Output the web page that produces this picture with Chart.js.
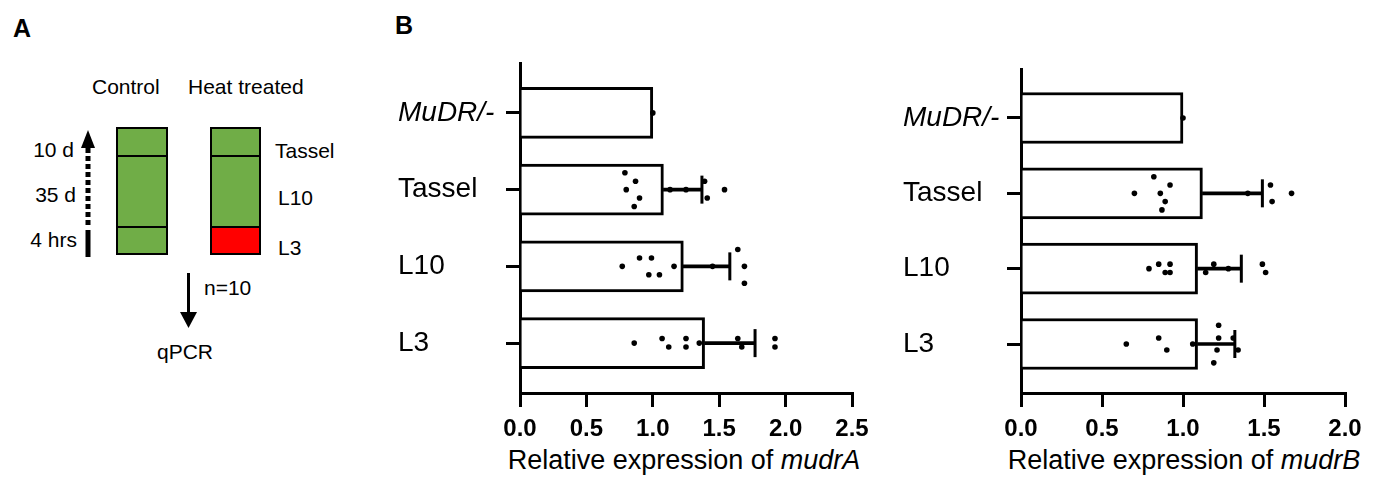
<!DOCTYPE html>
<html>
<head>
<meta charset="utf-8">
<script src="https://cdn.jsdelivr.net/npm/chart.js@4/dist/chart.umd.min.js"></script>
<style>
  body { margin: 0; background: #fff; width: 1377px; height: 478px; overflow: hidden; position: relative; font-family: "Liberation Sans", Arial, sans-serif; }
  svg.fig { position: absolute; left: 0; top: 0; }
  .box { position: absolute; }
</style>
</head>
<body>
<svg class="fig" width="1377" height="478" font-family="Liberation Sans, Arial, sans-serif">
  <text x="13" y="37" font-size="25" font-weight="bold">A</text>
  <text x="395" y="34" font-size="25" font-weight="bold">B</text>

  <text x="92" y="94" font-size="21">Control</text>
  <text x="188" y="94" font-size="21">Heat treated</text>

  <rect x="117" y="128" width="50" height="126" fill="#70AD47" stroke="#000" stroke-width="2"/>
  <line x1="117" y1="156" x2="167" y2="156" stroke="#000" stroke-width="2"/>
  <line x1="117" y1="227" x2="167" y2="227" stroke="#000" stroke-width="2"/>

  <rect x="211" y="128" width="49" height="126" fill="#70AD47" stroke="#000" stroke-width="2"/>
  <rect x="211" y="227" width="49" height="27" fill="#FF0000" stroke="#000" stroke-width="2"/>
  <line x1="211" y1="156" x2="260" y2="156" stroke="#000" stroke-width="2"/>

  <text x="74" y="157" font-size="21" text-anchor="end">10 d</text>
  <text x="76" y="202" font-size="21" text-anchor="end">35 d</text>
  <text x="77" y="247" font-size="21" text-anchor="end">4 hrs</text>

  <polygon points="81,148 95,148 88,130" fill="#000"/>
  <line x1="88" y1="148" x2="88" y2="227" stroke="#000" stroke-width="5" stroke-dasharray="5 3"/>
  <line x1="88" y1="230" x2="88" y2="257" stroke="#000" stroke-width="5"/>

  <text x="275" y="158" font-size="21">Tassel</text>
  <text x="278" y="205" font-size="21">L10</text>
  <text x="278" y="255" font-size="21">L3</text>

  <line x1="188.5" y1="273" x2="188.5" y2="313" stroke="#000" stroke-width="3"/>
  <polygon points="180,312 197,312 188.5,328" fill="#000"/>
  <text x="204" y="295" font-size="21">n=10</text>
  <text x="185" y="359" font-size="21" text-anchor="middle">qPCR</text>

  <text x="684" y="469" font-size="27" text-anchor="middle">Relative expression of <tspan font-style="italic">mudrA</tspan></text>
  <text x="1184" y="469" font-size="27" text-anchor="middle">Relative expression of <tspan font-style="italic">mudrB</tspan></text>
</svg>

<div class="box" style="left:398px; top:40px; width:484px; height:403px;"><canvas id="mudrA"></canvas></div>
<div class="box" style="left:903px; top:46px; width:472px; height:397px;"><canvas id="mudrB"></canvas></div>

<script>
categories = ['MuDR/-', 'Tassel', 'L10', 'L3'];

// mudrA panel
meanA = [1.0, 1.08, 1.23, 1.39];
errTopA = [null, 1.37, 1.58, 1.77];
pointsA = [
    [1.0],
    [0.79, 0.87, 0.80, 0.90, 0.86, 1.13, 1.25, 1.39, 1.41, 1.54],
    [0.77, 0.90, 0.99, 0.97, 1.05, 1.16, 1.45, 1.64, 1.69, 1.69],
    [0.86, 1.07, 1.12, 1.25, 1.25, 1.35, 1.64, 1.67, 1.92, 1.92]
];
offsetsA = [
    [0],
    [-0.22, -0.11, 0, 0.11, 0.22, 0, 0, -0.11, 0.11, 0],
    [0, -0.11, -0.11, 0.11, 0.11, 0, 0, -0.22, 0, 0.22],
    [0, -0.06, 0.05, -0.06, 0.05, 0, -0.06, 0.05, -0.06, 0.05]
];

// mudrB panel
meanB = [1.0, 1.12, 1.09, 1.09];
errTopB = [null, 1.49, 1.36, 1.32];
pointsB = [
    [1.0],
    [0.82, 0.92, 0.70, 0.86, 0.89, 0.87, 1.40, 1.54, 1.55, 1.67],
    [0.79, 0.85, 0.92, 0.89, 0.92, 1.14, 1.19, 1.28, 1.49, 1.51],
    [0.65, 0.85, 0.90, 1.06, 1.22, 1.22, 1.21, 1.19, 1.31, 1.34]
];
offsetsB = [
    [0],
    [-0.22, -0.11, 0, 0, 0.11, 0.22, 0, -0.11, 0.11, 0],
    [0, -0.06, -0.06, 0.05, 0.05, 0.05, -0.06, 0, -0.06, 0.05],
    [0, -0.08, 0.08, 0, -0.25, -0.08, 0.08, 0.25, -0.08, 0.08]
];

FONT = "'Liberation Sans', Arial, sans-serif";

drawPanel('mudrA', meanA, errTopA, pointsA, offsetsA, 2.5, 122);
drawPanel('mudrB', meanB, errTopB, pointsB, offsetsB, 2.0, 118);

function drawPanel(id, means, errTops, points, offsets, xMax, yWidth) {
    var dots = [];
    points.forEach((row, i) => row.forEach((v, j) => dots.push({ x: v, y: i + offsets[i][j] })));
    var caps = [];
    var whiskers = [];
    errTops.forEach((top, i) => {
        if (top == null) return;
        caps.push({ x: top, y: i });
        whiskers.push({ x: [means[i], top], y: i });
    });

    var axisLines = { offset: false, drawOnChartArea: false, tickLength: 14, lineWidth: 3, color: '#000' };

    return new Chart(document.getElementById(id), {
        type: 'bar',
        data: {
            datasets: [{
                type: 'scatter',
                data: dots,
                pointRadius: 2.8,
                pointBackgroundColor: '#000',
                pointBorderWidth: 0
            }, {
                type: 'scatter',
                data: caps,
                pointStyle: 'line',
                rotation: 90,
                pointRadius: 14,
                pointBorderWidth: 3,
                pointBorderColor: '#000'
            }, {
                indexAxis: 'y',
                grouped: false,
                data: whiskers,
                barThickness: 3,
                backgroundColor: '#000',
                borderWidth: 0
            }, {
                indexAxis: 'y',
                grouped: false,
                data: means.map((m, i) => ({ x: m, y: i })),
                barThickness: 51,
                backgroundColor: '#fff',
                borderColor: '#000',
                borderWidth: 3
            }]
        },
        options: {
            animation: false,
            maintainAspectRatio: false,
            events: [],
            layout: { padding: { top: 23, right: 30, left: 0, bottom: 0 } },
            scales: {
                x: {
                    type: 'linear',
                    offset: false,
                    min: 0,
                    max: xMax,
                    afterFit: s => { s.height = 50; },
                    ticks: {
                        stepSize: 0.5,
                        padding: 8,
                        color: '#000',
                        font: { family: FONT, size: 24, weight: 'bold' },
                        callback: v => Number(v).toFixed(1)
                    },
                    grid: axisLines,
                    border: { width: 3, color: '#000' }
                },
                y: {
                    type: 'linear',
                    offset: false,
                    reverse: true,
                    min: -0.65,
                    max: 3.65,
                    afterBuildTicks: s => { s.ticks = categories.map((c, i) => ({ value: i })); },
                    afterFit: s => { s.width = yWidth; },
                    ticks: {
                        crossAlign: 'far',
                        color: '#000',
                        font: ctx => ({ family: FONT, size: 28, style: ctx.index === 0 ? 'italic' : 'normal' }),
                        callback: v => categories[v]
                    },
                    grid: axisLines,
                    border: { width: 3, color: '#000' }
                }
            },
            plugins: {
                legend: { display: false },
                tooltip: { enabled: false }
            }
        }
    });
}
</script>
</body>
</html>
